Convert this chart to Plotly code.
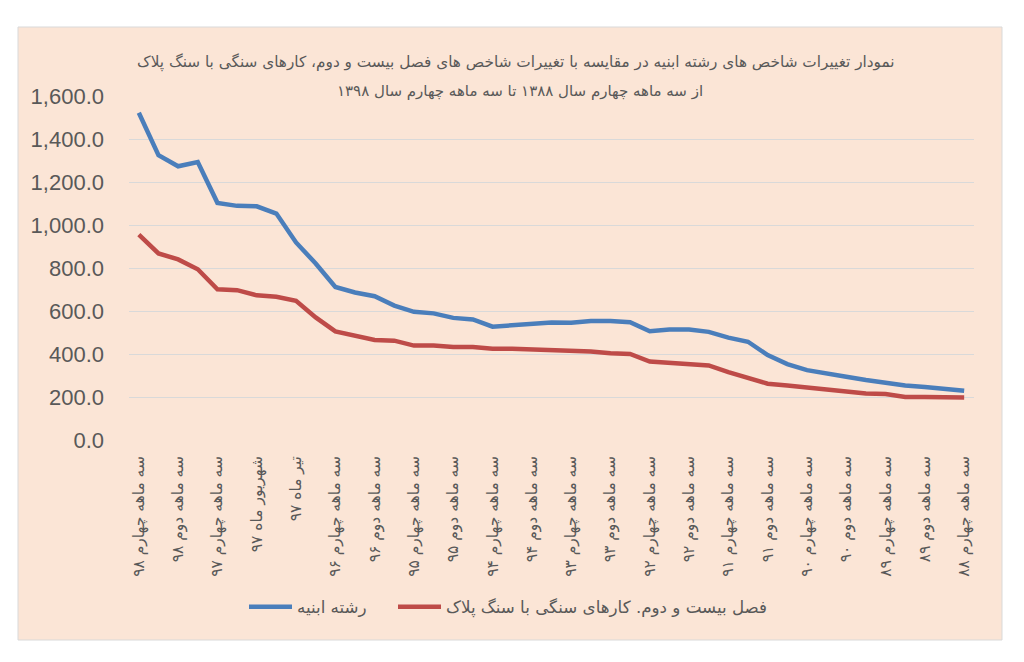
import plotly.graph_objects as go

periods = [
    "سه ماهه چهارم ۹۸", "سه ماهه سوم ۹۸", "سه ماهه دوم ۹۸", "سه ماهه اول ۹۸",
    "سه ماهه چهارم ۹۷", "سه ماهه سوم ۹۷", "شهریور ماه ۹۷", "مرداد ماه ۹۷",
    "تیر ماه ۹۷", "سه ماهه اول ۹۷", "سه ماهه چهارم ۹۶", "سه ماهه سوم ۹۶",
    "سه ماهه دوم ۹۶", "سه ماهه اول ۹۶", "سه ماهه چهارم ۹۵", "سه ماهه سوم ۹۵",
    "سه ماهه دوم ۹۵", "سه ماهه اول ۹۵", "سه ماهه چهارم ۹۴", "سه ماهه سوم ۹۴",
    "سه ماهه دوم ۹۴", "سه ماهه اول ۹۴", "سه ماهه چهارم ۹۳", "سه ماهه سوم ۹۳",
    "سه ماهه دوم ۹۳", "سه ماهه اول ۹۳", "سه ماهه چهارم ۹۲", "سه ماهه سوم ۹۲",
    "سه ماهه دوم ۹۲", "سه ماهه اول ۹۲", "سه ماهه چهارم ۹۱", "سه ماهه سوم ۹۱",
    "سه ماهه دوم ۹۱", "سه ماهه اول ۹۱", "سه ماهه چهارم ۹۰", "سه ماهه سوم ۹۰",
    "سه ماهه دوم ۹۰", "سه ماهه اول ۹۰", "سه ماهه چهارم ۸۹", "سه ماهه سوم ۸۹",
    "سه ماهه دوم ۸۹", "سه ماهه اول ۸۹", "سه ماهه چهارم ۸۸",
]

building_index = [
    1522, 1325, 1273, 1293, 1103, 1089, 1087, 1053, 919, 821,
    712, 686, 669, 625, 596, 589, 568, 561, 527, 534,
    542, 547, 545, 554, 554, 548, 506, 514, 514, 503,
    476, 457, 395, 353, 325, 307, 294, 279, 266, 254,
    246, 240, 229,
]

stone_index = [
    955, 868, 840, 794, 701, 697, 673, 666, 647, 570,
    505, 485, 465, 462, 439, 439, 433, 433, 425, 425,
    423, 420, 414, 412, 403, 400, 365, 359, 351, 347,
    316, 290, 262, 253, 244, 239, 228, 216, 214, 200,
    200, 200, 198,
]

series_names = ["رشته ابنیه", "فصل بیست و دوم. کارهای سنگی با سنگ پلاک"]
title_lines = [
    "نمودار تغییرات شاخص های رشته ابنیه در مقایسه با تغییرات شاخص های فصل بیست و دوم، کارهای سنگی با سنگ پلاک",
    "از سه ماهه چهارم سال ۱۳۸۸ تا سه ماهه چهارم سال ۱۳۹۸",
]
y_ticks = [0, 200, 400, 600, 800, 1000, 1200, 1400, 1600]

PEACH = "#FBE5D6"
TEXT = "#595959"
AR_FONT = "DejaVu Sans"

# page offset (browser body margin)
OFF = 8
W, H = 1024, 662
# target on-screen plot area
PL, PR, PT, PB = 129, 974, 96, 440
L = PL - OFF
T = PT - OFF
R = W - (PR - OFF)
B = H - (PB - OFF)
pw, ph = PR - PL, PB - PT


def px_to_paper_x(px):
    return (px - PL) / pw


def px_to_paper_y(py):
    return (PB - py) / ph


fig = go.Figure()
fig.add_trace(go.Scatter(x=periods, y=building_index, mode="lines", name=series_names[0],
                         line=dict(color="#4A7EBB", width=4.5), legend="legend"))
fig.add_trace(go.Scatter(x=periods, y=stone_index, mode="lines", name=series_names[1],
                         line=dict(color="#BE4B48", width=4.5), legend="legend2"))

fig.add_shape(type="rect", xref="paper", yref="paper",
              x0=px_to_paper_x(18), x1=px_to_paper_x(1002),
              y0=px_to_paper_y(640), y1=px_to_paper_y(27),
              fillcolor=PEACH, line=dict(color="#D9D9D9", width=1), layer="below")

fig.add_annotation(text=title_lines[0], xref="paper", yref="paper",
                   x=px_to_paper_x(516), y=px_to_paper_y(62), showarrow=False,
                   xanchor="center", yanchor="middle",
                   font=dict(family=AR_FONT, size=15.3, color=TEXT))
fig.add_annotation(text=title_lines[1], xref="paper", yref="paper",
                   x=px_to_paper_x(520), y=px_to_paper_y(91), showarrow=False,
                   xanchor="center", yanchor="middle",
                   font=dict(family=AR_FONT, size=15, color=TEXT))

legend_common = dict(orientation="h", yanchor="middle", y=px_to_paper_y(607),
                     xanchor="left", font=dict(family=AR_FONT, size=16.7, color=TEXT),
                     bgcolor="rgba(0,0,0,0)", itemwidth=43)

fig.update_layout(
    width=W, height=H,
    margin=dict(l=L, r=R, t=T, b=B, autoexpand=False),
    paper_bgcolor="white",
    plot_bgcolor="rgba(0,0,0,0)",
    showlegend=True,
    legend=dict(x=px_to_paper_x(244), **legend_common),
    legend2=dict(x=px_to_paper_x(393), **legend_common),
    xaxis=dict(type="category", categoryorder="array", categoryarray=periods,
               tickvals=periods[::2], ticktext=periods[::2],
               tickangle=-90, showgrid=False, zeroline=False, showline=False,
               ticks="", ticklabelstandoff=12,
               tickfont=dict(family=AR_FONT, size=15.5, color=TEXT),
               range=[-0.5, len(periods) - 0.5]),
    yaxis=dict(range=[0, 1600], tickvals=y_ticks, tickformat=",.1f",
               showgrid=True, gridcolor="#D9D9D9", gridwidth=1,
               zeroline=False, showline=False, ticks="", ticklabelstandoff=24,
               tickfont=dict(family="Liberation Sans", size=22, color=TEXT)),
)

fig.write_html("out.html")
